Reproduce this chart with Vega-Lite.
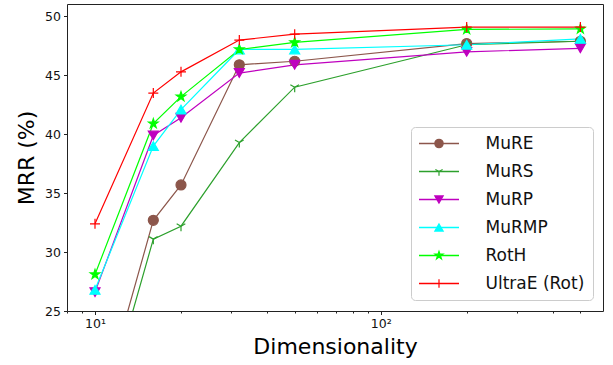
{
  "$schema": "https://vega.github.io/schema/vega-lite/v6.json",
  "width": 536,
  "height": 307,
  "autosize": {"type": "none"},
  "padding": {"left": 67, "top": 4, "right": 10, "bottom": 54},
  "background": "white",
  "config": {
    "font": "DejaVu Sans",
    "view": {"stroke": "#222222", "strokeWidth": 1},
    "axis": {"grid": false, "domain": false, "tickColor": "#222222", "labelColor": "#111111", "titleColor": "#000000", "titleFontWeight": "normal", "labelFont": "DejaVu Sans", "titleFont": "DejaVu Sans"}
  },
  "data": {
    "values": [
      {"model": "MuRE", "dim": 10, "mrr": 15.1},
      {"model": "MuRE", "dim": 16, "mrr": 32.7},
      {"model": "MuRE", "dim": 20, "mrr": 35.7},
      {"model": "MuRE", "dim": 32, "mrr": 45.9},
      {"model": "MuRE", "dim": 50, "mrr": 46.2},
      {"model": "MuRE", "dim": 200, "mrr": 47.7},
      {"model": "MuRE", "dim": 500, "mrr": 47.9},
      {"model": "MuRS", "dim": 10, "mrr": 13.7},
      {"model": "MuRS", "dim": 16, "mrr": 31.1},
      {"model": "MuRS", "dim": 20, "mrr": 32.2},
      {"model": "MuRS", "dim": 32, "mrr": 39.3},
      {"model": "MuRS", "dim": 50, "mrr": 44.0},
      {"model": "MuRS", "dim": 200, "mrr": 47.6},
      {"model": "MuRS", "dim": 500, "mrr": 47.9},
      {"model": "MuRP", "dim": 10, "mrr": 26.6},
      {"model": "MuRP", "dim": 16, "mrr": 39.9},
      {"model": "MuRP", "dim": 20, "mrr": 41.4},
      {"model": "MuRP", "dim": 32, "mrr": 45.2},
      {"model": "MuRP", "dim": 50, "mrr": 45.9},
      {"model": "MuRP", "dim": 200, "mrr": 47.0},
      {"model": "MuRP", "dim": 500, "mrr": 47.3},
      {"model": "MuRMP", "dim": 10, "mrr": 26.8},
      {"model": "MuRMP", "dim": 16, "mrr": 39.0},
      {"model": "MuRMP", "dim": 20, "mrr": 42.1},
      {"model": "MuRMP", "dim": 32, "mrr": 47.2},
      {"model": "MuRMP", "dim": 50, "mrr": 47.2},
      {"model": "MuRMP", "dim": 200, "mrr": 47.6},
      {"model": "MuRMP", "dim": 500, "mrr": 48.1},
      {"model": "RotH", "dim": 10, "mrr": 28.1},
      {"model": "RotH", "dim": 16, "mrr": 40.9},
      {"model": "RotH", "dim": 20, "mrr": 43.2},
      {"model": "RotH", "dim": 32, "mrr": 47.2},
      {"model": "RotH", "dim": 50, "mrr": 47.8},
      {"model": "RotH", "dim": 200, "mrr": 48.9},
      {"model": "RotH", "dim": 500, "mrr": 48.95},
      {"model": "UltraE (Rot)", "dim": 10, "mrr": 32.4},
      {"model": "UltraE (Rot)", "dim": 16, "mrr": 43.5},
      {"model": "UltraE (Rot)", "dim": 20, "mrr": 45.3},
      {"model": "UltraE (Rot)", "dim": 32, "mrr": 48.0},
      {"model": "UltraE (Rot)", "dim": 50, "mrr": 48.5},
      {"model": "UltraE (Rot)", "dim": 200, "mrr": 49.1},
      {"model": "UltraE (Rot)", "dim": 500, "mrr": 49.1}
    ]
  },
  "encoding": {
    "x": {
      "field": "dim", "type": "quantitative",
      "scale": {"type": "log", "domain": [7.98, 600], "nice": false, "zero": false},
      "axis": {
        "title": "Dimensionality", "titleFontSize": 22, "titlePadding": 6,
        "values": [8, 9, 10, 20, 30, 40, 50, 60, 70, 80, 90, 100, 200, 300, 400, 500],
        "labelExpr": "datum.value == 10 ? '10¹' : (datum.value == 100 ? '10²' : '')",
        "labelFontSize": 12.5, "labelPadding": 3, "labelFlush": false, "labelOverlap": false,
        "tickSize": {"condition": {"test": "datum.value == 10 || datum.value == 100", "value": 3.5}, "value": 2}
      }
    },
    "y": {
      "field": "mrr", "type": "quantitative",
      "scale": {"domain": [25, 51.06], "nice": false, "zero": false},
      "axis": {
        "title": "MRR (%)", "titleFontSize": 22, "titlePadding": 6,
        "values": [25, 30, 35, 40, 45, 50],
        "labelFontSize": 12.5, "labelPadding": 3, "tickSize": 3.5
      }
    }
  },
  "layer": [
    {
      "mark": {"type": "line", "clip": true, "strokeWidth": 1.2},
      "encoding": {
        "color": {
          "field": "model", "type": "nominal",
          "sort": ["MuRE", "MuRS", "MuRP", "MuRMP", "RotH", "UltraE (Rot)"],
          "scale": {"range": ["#8c564b", "#2ca02c", "#bf00bf", "#00ffff", "#00ff00", "#ff0000"]},
          "legend": {
            "orient": "none", "legendX": 344, "legendY": 123, "title": null,
            "symbolType": "M-4,0H4", "symbolSize": 100, "symbolStrokeWidth": 1.5, "symbolOffset": 11.5,
            "labelFontSize": 17, "labelOffset": 38, "labelColor": "#111111", "labelFont": "DejaVu Sans",
            "padding": 8, "rowPadding": 10,
            "fillColor": "white", "strokeColor": "#cccccc", "cornerRadius": 4, "zindex": 0
          }
        }
      }
    },
    {
      "mark": {"type": "point", "clip": true, "size": 100, "opacity": 1, "strokeWidth": 1.2},
      "encoding": {
        "fill": {
          "field": "model", "type": "nominal",
          "scale": {"domain": ["MuRE", "MuRS", "MuRP", "MuRMP", "RotH", "UltraE (Rot)"], "range": ["#8c564b", "#2ca02c", "#bf00bf", "#00ffff", "#00ff00", "#ff0000"]}
        },
        "stroke": {
          "field": "model", "type": "nominal",
          "scale": {"domain": ["MuRE", "MuRS", "MuRP", "MuRMP", "RotH", "UltraE (Rot)"], "range": ["#8c564b", "#2ca02c", "#bf00bf", "#00ffff", "#00ff00", "#ff0000"]}
        },
        "shape": {
          "field": "model", "type": "nominal",
          "scale": {"domain": ["MuRE", "MuRS", "MuRP", "MuRMP", "RotH", "UltraE (Rot)"], "range": ["circle", "M0,0V1M0,0L-0.866,-0.5M0,0L0.866,-0.5", "triangle-down", "triangle-up", "M0,-1L0.225,-0.309L0.951,-0.309L0.363,0.118L0.588,0.809L0,0.382L-0.588,0.809L-0.363,0.118L-0.951,-0.309L-0.225,-0.309Z", "M-1,0H1M0,-1V1"]},
          "legend": {
            "orient": "none", "legendX": 344, "legendY": 123, "title": null,
            "symbolSize": 70, "symbolStrokeWidth": 1.2, "symbolOffset": 11.5, "symbolOpacity": 1,
            "labelFontSize": 17, "labelOffset": 38, "labelOpacity": 0, "labelFont": "DejaVu Sans",
            "padding": 8, "rowPadding": 10, "zindex": 1
          }
        }
      }
    }
  ]
}
